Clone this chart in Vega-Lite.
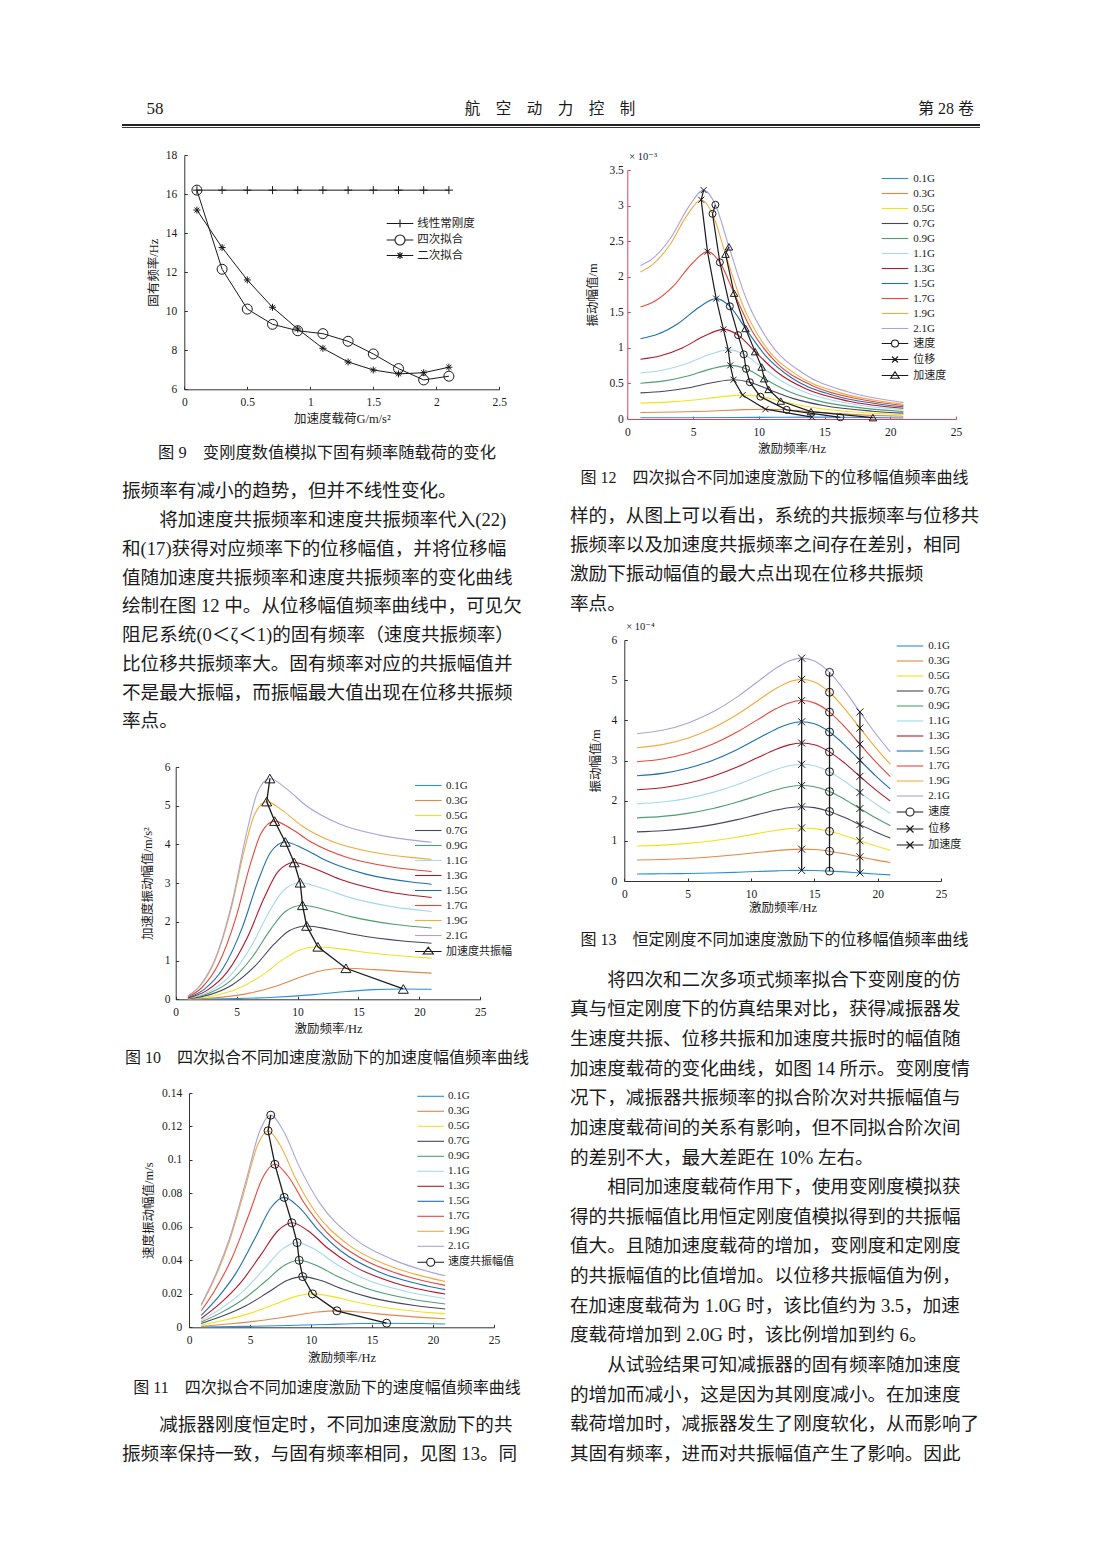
{
"$schema":"https://vega.github.io/schema/vega-lite/v6.json",
"background":"white",
"padding":0,
"spacing":0,
"resolve":{"scale":{"color":"independent","shape":"independent"},"legend":{"color":"independent","shape":"independent"}},
"config":{
 "view":{"stroke":null},
 "font":"Liberation Serif, Noto Sans CJK SC",
 "axis":{"grid":false,"domainColor":"#333333","tickColor":"#333333","labelColor":"#1a1a1a","titleColor":"#1a1a1a","labelFont":"Liberation Serif","labelFontSize":11.5,"titleFont":"Liberation Serif, Noto Sans CJK SC","titleFontSize":12.5,"titleFontWeight":"normal","tickSize":-3,"labelPadding":10,"labelFlush":false,"labelOverlap":false,"domainWidth":1,"tickWidth":1},
 "legend":{"orient":"none","title":null,"padding":0,"symbolSize":100,"symbolStrokeWidth":1.2,"labelFont":"Liberation Serif, Noto Sans CJK SC","labelFontSize":11,"labelColor":"#1a1a1a","rowPadding":4,"labelOffset":12.3},
 "point":{"opacity":1},
 "line":{"strokeWidth":1.1},
 "text":{"font":"Liberation Serif, Noto Sans CJK SC","color":"#1a1a1a"},
 "title":{"font":"Liberation Serif, DejaVu Serif","fontWeight":"normal","fontSize":10.5,"anchor":"start","frame":"group","color":"#1a1a1a"}
},
"datasets":{
 "f9":[
  {"s":"线性常刚度","g":0.1,"f":16.2},{"s":"线性常刚度","g":0.3,"f":16.2},{"s":"线性常刚度","g":0.5,"f":16.2},{"s":"线性常刚度","g":0.7,"f":16.2},{"s":"线性常刚度","g":0.9,"f":16.2},{"s":"线性常刚度","g":1.1,"f":16.2},{"s":"线性常刚度","g":1.3,"f":16.2},{"s":"线性常刚度","g":1.5,"f":16.2},{"s":"线性常刚度","g":1.7,"f":16.2},{"s":"线性常刚度","g":1.9,"f":16.2},{"s":"线性常刚度","g":2.1,"f":16.2},
  {"s":"四次拟合","g":0.1,"f":16.2},{"s":"四次拟合","g":0.3,"f":12.15},{"s":"四次拟合","g":0.5,"f":10.11},{"s":"四次拟合","g":0.7,"f":9.33},{"s":"四次拟合","g":0.9,"f":9.0},{"s":"四次拟合","g":1.1,"f":8.85},{"s":"四次拟合","g":1.3,"f":8.46},{"s":"四次拟合","g":1.5,"f":7.81},{"s":"四次拟合","g":1.7,"f":7.06},{"s":"四次拟合","g":1.9,"f":6.48},{"s":"四次拟合","g":2.1,"f":6.67},
  {"s":"二次拟合","g":0.1,"f":15.18},{"s":"二次拟合","g":0.3,"f":13.26},{"s":"二次拟合","g":0.5,"f":11.6},{"s":"二次拟合","g":0.7,"f":10.2},{"s":"二次拟合","g":0.9,"f":9.09},{"s":"二次拟合","g":1.1,"f":8.1},{"s":"二次拟合","g":1.3,"f":7.4},{"s":"二次拟合","g":1.5,"f":6.99},{"s":"二次拟合","g":1.7,"f":6.79},{"s":"二次拟合","g":1.9,"f":6.85},{"s":"二次拟合","g":2.1,"f":7.13}
 ],
 "vs":[
  {"g":"0.1G","r":0.0617,"f":1,"d":0.01705,"v":0.00011,"a":0.0007},
  {"g":"0.1G","r":0.3,"f":4.86,"d":0.0182,"v":0.00056,"a":0.017},
  {"g":"0.1G","r":0.5,"f":8.1,"d":0.0205,"v":0.00104,"a":0.0532},
  {"g":"0.1G","r":0.7,"f":11.34,"d":0.024,"v":0.00171,"a":0.1217},
  {"g":"0.1G","r":0.867,"f":14.05,"d":0.0258,"v":0.00228,"a":0.2009},
  {"g":"0.1G","r":1,"f":16.2,"d":0.0241,"v":0.00246,"a":0.2502},
  {"g":"0.1G","r":1.153,"f":18.68,"d":0.0194,"v":0.00228,"a":0.2673},
  {"g":"0.1G","r":1.296,"f":21,"d":0.0149,"v":0.00197,"a":0.26},
  {"g":"0.3G","r":0.0825,"f":1,"d":0.0915,"v":0.00058,"a":0.0036},
  {"g":"0.3G","r":0.3,"f":3.64,"d":0.0974,"v":0.00223,"a":0.0508},
  {"g":"0.3G","r":0.5,"f":6.06,"d":0.1098,"v":0.00418,"a":0.1592},
  {"g":"0.3G","r":0.7,"f":8.48,"d":0.1283,"v":0.00684,"a":0.3646},
  {"g":"0.3G","r":0.867,"f":10.51,"d":0.1381,"v":0.00912,"a":0.602},
  {"g":"0.3G","r":1,"f":12.12,"d":0.1293,"v":0.00984,"a":0.7496},
  {"g":"0.3G","r":1.153,"f":13.97,"d":0.1039,"v":0.00912,"a":0.8009},
  {"g":"0.3G","r":1.35,"f":16.36,"d":0.0724,"v":0.00744,"a":0.7652},
  {"g":"0.3G","r":1.6,"f":19.39,"d":0.0473,"v":0.00576,"a":0.7021},
  {"g":"0.3G","r":1.733,"f":21,"d":0.0388,"v":0.00512,"a":0.6758},
  {"g":"0.5G","r":0.0988,"f":1,"d":0.2226,"v":0.0014,"a":0.0088},
  {"g":"0.5G","r":0.3,"f":3.04,"d":0.2366,"v":0.00451,"a":0.0861},
  {"g":"0.5G","r":0.5,"f":5.06,"d":0.2667,"v":0.00848,"a":0.2696},
  {"g":"0.5G","r":0.7,"f":7.08,"d":0.3116,"v":0.01387,"a":0.6174},
  {"g":"0.5G","r":0.867,"f":8.77,"d":0.3354,"v":0.01849,"a":1.0193},
  {"g":"0.5G","r":1,"f":10.12,"d":0.3139,"v":0.01996,"a":1.2693},
  {"g":"0.5G","r":1.153,"f":11.67,"d":0.2523,"v":0.0185,"a":1.3561},
  {"g":"0.5G","r":1.35,"f":13.66,"d":0.1758,"v":0.01509,"a":1.2957},
  {"g":"0.5G","r":1.6,"f":16.19,"d":0.1149,"v":0.01169,"a":1.1889},
  {"g":"0.5G","r":2,"f":20.24,"d":0.0667,"v":0.00848,"a":1.0785},
  {"g":"0.5G","r":2.075,"f":21,"d":0.0611,"v":0.00807,"a":1.0646},
  {"g":"0.7G","r":0.107,"f":1,"d":0.367,"v":0.00231,"a":0.0145},
  {"g":"0.7G","r":0.3,"f":2.8,"d":0.39,"v":0.00685,"a":0.1203},
  {"g":"0.7G","r":0.5,"f":4.66,"d":0.439,"v":0.01286,"a":0.3766},
  {"g":"0.7G","r":0.7,"f":6.52,"d":0.513,"v":0.02104,"a":0.8624},
  {"g":"0.7G","r":0.867,"f":8.08,"d":0.552,"v":0.02805,"a":1.4239},
  {"g":"0.7G","r":1,"f":9.32,"d":0.517,"v":0.03028,"a":1.773},
  {"g":"0.7G","r":1.153,"f":10.75,"d":0.416,"v":0.02806,"a":1.8943},
  {"g":"0.7G","r":1.35,"f":12.58,"d":0.29,"v":0.02289,"a":1.8099},
  {"g":"0.7G","r":1.6,"f":14.91,"d":0.189,"v":0.01772,"a":1.6607},
  {"g":"0.7G","r":2,"f":18.64,"d":0.11,"v":0.01286,"a":1.5066},
  {"g":"0.7G","r":2.253,"f":21,"d":0.0832,"v":0.01098,"a":1.4486},
  {"g":"0.9G","r":0.111,"f":1,"d":0.502,"v":0.00315,"a":0.0198},
  {"g":"0.9G","r":0.3,"f":2.71,"d":0.532,"v":0.00906,"a":0.1541},
  {"g":"0.9G","r":0.5,"f":4.52,"d":0.6,"v":0.01702,"a":0.4828},
  {"g":"0.9G","r":0.7,"f":6.32,"d":0.701,"v":0.02783,"a":1.1054},
  {"g":"0.9G","r":0.867,"f":7.83,"d":0.754,"v":0.0371,"a":1.8251},
  {"g":"0.9G","r":1,"f":9.03,"d":0.706,"v":0.04005,"a":2.2726},
  {"g":"0.9G","r":1.153,"f":10.41,"d":0.567,"v":0.03711,"a":2.428},
  {"g":"0.9G","r":1.35,"f":12.19,"d":0.395,"v":0.03029,"a":2.3198},
  {"g":"0.9G","r":1.6,"f":14.45,"d":0.258,"v":0.02345,"a":2.1286},
  {"g":"0.9G","r":2,"f":18.06,"d":0.15,"v":0.01702,"a":1.9311},
  {"g":"0.9G","r":2.326,"f":21,"d":0.106,"v":0.01394,"a":1.84},
  {"g":"1.1G","r":0.113,"f":1,"d":0.646,"v":0.00406,"a":0.0255},
  {"g":"1.1G","r":0.3,"f":2.66,"d":0.685,"v":0.01144,"a":0.1911},
  {"g":"1.1G","r":0.5,"f":4.43,"d":0.772,"v":0.0215,"a":0.5985},
  {"g":"1.1G","r":0.7,"f":6.2,"d":0.902,"v":0.03517,"a":1.3704},
  {"g":"1.1G","r":0.867,"f":7.68,"d":0.971,"v":0.04688,"a":2.2626},
  {"g":"1.1G","r":1,"f":8.86,"d":0.909,"v":0.05061,"a":2.8173},
  {"g":"1.1G","r":1.153,"f":10.22,"d":0.731,"v":0.04689,"a":3.01},
  {"g":"1.1G","r":1.35,"f":11.96,"d":0.509,"v":0.03827,"a":2.8759},
  {"g":"1.1G","r":1.6,"f":14.18,"d":0.333,"v":0.02963,"a":2.6388},
  {"g":"1.1G","r":2,"f":17.72,"d":0.193,"v":0.0215,"a":2.394},
  {"g":"1.1G","r":2.37,"f":21,"d":0.13,"v":0.0172,"a":2.2693},
  {"g":"1.3G","r":0.119,"f":1,"d":0.839,"v":0.00527,"a":0.0331},
  {"g":"1.3G","r":0.3,"f":2.53,"d":0.888,"v":0.01412,"a":0.2243},
  {"g":"1.3G","r":0.5,"f":4.22,"d":1.002,"v":0.02653,"a":0.7027},
  {"g":"1.3G","r":0.7,"f":5.9,"d":1.17,"v":0.04339,"a":1.6089},
  {"g":"1.3G","r":0.867,"f":7.31,"d":1.26,"v":0.05784,"a":2.6564},
  {"g":"1.3G","r":1,"f":8.43,"d":1.179,"v":0.06245,"a":3.3077},
  {"g":"1.3G","r":1.153,"f":9.72,"d":0.947,"v":0.05787,"a":3.5339},
  {"g":"1.3G","r":1.35,"f":11.38,"d":0.66,"v":0.04722,"a":3.3765},
  {"g":"1.3G","r":1.6,"f":13.49,"d":0.431,"v":0.03656,"a":3.0981},
  {"g":"1.3G","r":2,"f":16.86,"d":0.25,"v":0.02653,"a":2.8106},
  {"g":"1.3G","r":2.491,"f":21,"d":0.151,"v":0.01994,"a":2.6306},
  {"g":"1.5G","r":0.128,"f":1,"d":1.129,"v":0.00709,"a":0.0446},
  {"g":"1.5G","r":0.3,"f":2.34,"d":1.194,"v":0.01755,"a":0.258},
  {"g":"1.5G","r":0.5,"f":3.9,"d":1.346,"v":0.03298,"a":0.8081},
  {"g":"1.5G","r":0.7,"f":5.46,"d":1.572,"v":0.05394,"a":1.8504},
  {"g":"1.5G","r":0.867,"f":6.76,"d":1.692,"v":0.0719,"a":3.0551},
  {"g":"1.5G","r":1,"f":7.8,"d":1.584,"v":0.07762,"a":3.8042},
  {"g":"1.5G","r":1.153,"f":8.99,"d":1.273,"v":0.07193,"a":4.0643},
  {"g":"1.5G","r":1.35,"f":10.53,"d":0.887,"v":0.05869,"a":3.8833},
  {"g":"1.5G","r":1.6,"f":12.48,"d":0.579,"v":0.04544,"a":3.5631},
  {"g":"1.5G","r":2,"f":15.6,"d":0.336,"v":0.03298,"a":3.2325},
  {"g":"1.5G","r":2.5,"f":19.5,"d":0.201,"v":0.02467,"a":3.0229},
  {"g":"1.5G","r":2.692,"f":21,"d":0.171,"v":0.02253,"a":2.9729},
  {"g":"1.7G","r":0.142,"f":1,"d":1.574,"v":0.00989,"a":0.0621},
  {"g":"1.7G","r":0.3,"f":2.11,"d":1.659,"v":0.02202,"a":0.2922},
  {"g":"1.7G","r":0.5,"f":3.52,"d":1.871,"v":0.04138,"a":0.9152},
  {"g":"1.7G","r":0.7,"f":4.93,"d":2.186,"v":0.06768,"a":2.0955},
  {"g":"1.7G","r":0.867,"f":6.1,"d":2.352,"v":0.09021,"a":3.4597},
  {"g":"1.7G","r":1,"f":7.04,"d":2.202,"v":0.09739,"a":4.308},
  {"g":"1.7G","r":1.153,"f":8.12,"d":1.769,"v":0.09024,"a":4.6026},
  {"g":"1.7G","r":1.35,"f":9.5,"d":1.233,"v":0.07364,"a":4.3976},
  {"g":"1.7G","r":1.6,"f":11.26,"d":0.806,"v":0.05701,"a":4.035},
  {"g":"1.7G","r":2,"f":14.08,"d":0.468,"v":0.04138,"a":3.6606},
  {"g":"1.7G","r":2.5,"f":17.6,"d":0.28,"v":0.03096,"a":3.4233},
  {"g":"1.7G","r":2.983,"f":21,"d":0.19,"v":0.02503,"a":3.3025},
  {"g":"1.9G","r":0.154,"f":1,"d":2.067,"v":0.01299,"a":0.0816},
  {"g":"1.9G","r":0.3,"f":1.94,"d":2.173,"v":0.02654,"a":0.3242},
  {"g":"1.9G","r":0.5,"f":3.24,"d":2.45,"v":0.04988,"a":1.0154},
  {"g":"1.9G","r":0.7,"f":4.54,"d":2.862,"v":0.08158,"a":2.3251},
  {"g":"1.9G","r":0.867,"f":5.62,"d":3.081,"v":0.10875,"a":3.8388},
  {"g":"1.9G","r":1,"f":6.48,"d":2.884,"v":0.1174,"a":4.7801},
  {"g":"1.9G","r":1.153,"f":7.47,"d":2.317,"v":0.10879,"a":5.1069},
  {"g":"1.9G","r":1.35,"f":8.75,"d":1.615,"v":0.08877,"a":4.8795},
  {"g":"1.9G","r":1.6,"f":10.37,"d":1.055,"v":0.06873,"a":4.4772},
  {"g":"1.9G","r":2,"f":12.96,"d":0.613,"v":0.04988,"a":4.0618},
  {"g":"1.9G","r":2.5,"f":16.2,"d":0.367,"v":0.03732,"a":3.7984},
  {"g":"1.9G","r":3,"f":19.44,"d":0.245,"v":0.02997,"a":3.6604},
  {"g":"1.9G","r":3.241,"f":21,"d":0.208,"v":0.02741,"a":3.6165},
  {"g":"2.1G","r":0.149,"f":1,"d":2.156,"v":0.01355,"a":0.085},
  {"g":"2.1G","r":0.3,"f":2.01,"d":2.269,"v":0.02866,"a":0.362},
  {"g":"2.1G","r":0.5,"f":3.35,"d":2.559,"v":0.05386,"a":1.1337},
  {"g":"2.1G","r":0.7,"f":4.69,"d":2.989,"v":0.08809,"a":2.5958},
  {"g":"2.1G","r":0.867,"f":5.81,"d":3.217,"v":0.11743,"a":4.2858},
  {"g":"2.1G","r":1,"f":6.7,"d":3.011,"v":0.12677,"a":5.3367},
  {"g":"2.1G","r":1.153,"f":7.73,"d":2.42,"v":0.11747,"a":5.7016},
  {"g":"2.1G","r":1.35,"f":9.05,"d":1.687,"v":0.09586,"a":5.4477},
  {"g":"2.1G","r":1.6,"f":10.72,"d":1.102,"v":0.07421,"a":4.9985},
  {"g":"2.1G","r":2,"f":13.4,"d":0.64,"v":0.05386,"a":4.5347},
  {"g":"2.1G","r":2.5,"f":16.75,"d":0.383,"v":0.04029,"a":4.2407},
  {"g":"2.1G","r":3,"f":20.1,"d":0.256,"v":0.03236,"a":4.0866},
  {"g":"2.1G","r":3.134,"f":21,"d":0.233,"v":0.03075,"a":4.0578}
 ],
 "cs":[
  {"f":1,"0_1G":0.175,"0_3G":0.524,"0_5G":0.873,"0_7G":1.222,"0_9G":1.571,"1_1G":1.921,"1_3G":2.27,"1_5G":2.619,"1_7G":2.968,"1_9G":3.317,"2_1G":3.667},
  {"f":3,"0_1G":0.179,"0_3G":0.536,"0_5G":0.893,"0_7G":1.251,"0_9G":1.608,"1_1G":1.965,"1_3G":2.323,"1_5G":2.68,"1_7G":3.037,"1_9G":3.395,"2_1G":3.752},
  {"f":5,"0_1G":0.187,"0_3G":0.561,"0_5G":0.936,"0_7G":1.31,"0_9G":1.684,"1_1G":2.058,"1_3G":2.432,"1_5G":2.807,"1_7G":3.181,"1_9G":3.555,"2_1G":3.929},
  {"f":7,"0_1G":0.2,"0_3G":0.602,"0_5G":1.003,"0_7G":1.404,"0_9G":1.805,"1_1G":2.206,"1_3G":2.607,"1_5G":3.008,"1_7G":3.409,"1_9G":3.81,"2_1G":4.211},
  {"f":9,"0_1G":0.219,"0_3G":0.658,"0_5G":1.096,"0_7G":1.534,"0_9G":1.973,"1_1G":2.411,"1_3G":2.849,"1_5G":3.288,"1_7G":3.726,"1_9G":4.164,"2_1G":4.603},
  {"f":10.5,"0_1G":0.236,"0_3G":0.708,"0_5G":1.18,"0_7G":1.652,"0_9G":2.123,"1_1G":2.595,"1_3G":3.067,"1_5G":3.539,"1_7G":4.011,"1_9G":4.483,"2_1G":4.955},
  {"f":12,"0_1G":0.252,"0_3G":0.757,"0_5G":1.262,"0_7G":1.767,"0_9G":2.272,"1_1G":2.777,"1_3G":3.282,"1_5G":3.787,"1_7G":4.292,"1_9G":4.797,"2_1G":5.301},
  {"f":13,"0_1G":0.261,"0_3G":0.782,"0_5G":1.304,"0_7G":1.825,"0_9G":2.346,"1_1G":2.868,"1_3G":3.389,"1_5G":3.911,"1_7G":4.432,"1_9G":4.954,"2_1G":5.475},
  {"f":14,"0_1G":0.264,"0_3G":0.793,"0_5G":1.321,"0_7G":1.849,"0_9G":2.378,"1_1G":2.906,"1_3G":3.435,"1_5G":3.963,"1_7G":4.492,"1_9G":5.02,"2_1G":5.548},
  {"f":15,"0_1G":0.261,"0_3G":0.783,"0_5G":1.305,"0_7G":1.826,"0_9G":2.348,"1_1G":2.87,"1_3G":3.392,"1_5G":3.914,"1_7G":4.435,"1_9G":4.957,"2_1G":5.479},
  {"f":16.2,"0_1G":0.247,"0_3G":0.742,"0_5G":1.237,"0_7G":1.731,"0_9G":2.226,"1_1G":2.72,"1_3G":3.215,"1_5G":3.71,"1_7G":4.204,"1_9G":4.699,"2_1G":5.194},
  {"f":17.4,"0_1G":0.226,"0_3G":0.677,"0_5G":1.128,"0_7G":1.579,"0_9G":2.031,"1_1G":2.482,"1_3G":2.933,"1_5G":3.385,"1_7G":3.836,"1_9G":4.287,"2_1G":4.738},
  {"f":18.6,"0_1G":0.2,"0_3G":0.601,"0_5G":1.002,"0_7G":1.403,"0_9G":1.804,"1_1G":2.205,"1_3G":2.605,"1_5G":3.006,"1_7G":3.407,"1_9G":3.808,"2_1G":4.209},
  {"f":19.8,"0_1G":0.175,"0_3G":0.526,"0_5G":0.877,"0_7G":1.228,"0_9G":1.579,"1_1G":1.93,"1_3G":2.281,"1_5G":2.632,"1_7G":2.983,"1_9G":3.334,"2_1G":3.685},
  {"f":21,"0_1G":0.153,"0_3G":0.459,"0_5G":0.765,"0_7G":1.071,"0_9G":1.377,"1_1G":1.682,"1_3G":1.988,"1_5G":2.294,"1_7G":2.6,"1_9G":2.906,"2_1G":3.212}
 ]
},
"vconcat":[
 {"spacing":0,"vconcat":[
  {"width":1102,"height":94,"data":{"values":[]},"mark":"point"},
  {"spacing":0,"bounds":"flush","hconcat":[
   {"width":310,"height":30,"data":{"values":[{"t":"58"}]},"mark":{"type":"text","fontSize":17,"font":"Liberation Serif"},"encoding":{"text":{"field":"t"}}},
   {"width":480,"height":30,"data":{"values":[{"t":"航　空　动　力　控　制"}]},"mark":{"type":"text","fontSize":15.5},"encoding":{"text":{"field":"t"}}},
   {"width":312,"height":30,"data":{"values":[{"t":"第 28 卷"}]},"mark":{"type":"text","fontSize":16},"encoding":{"text":{"field":"t"}}}
  ]},
  {"spacing":0,"bounds":"flush","hconcat":[
   {"width":122,"height":5,"data":{"values":[]},"mark":"point"},
   {"width":858,"height":5,"data":{"values":[{}]},"layer":[
    {"mark":{"type":"rule","strokeWidth":1.8,"color":"#222222"},"encoding":{"y":{"datum":4,"type":"quantitative","scale":{"domain":[0,5]},"axis":null}}},
    {"mark":{"type":"rule","strokeWidth":0.9,"color":"#222222"},"encoding":{"y":{"datum":1.5,"type":"quantitative","axis":null}}}
   ]}
  ]}
 ]},
 {"spacing":0,"resolve":{"scale":{"color":"independent","shape":"independent"},"legend":{"color":"independent","shape":"independent"}},"hconcat":[
  {"spacing":0,"bounds":"flush","resolve":{"scale":{"color":"independent","shape":"independent"},"legend":{"color":"independent","shape":"independent"}},"vconcat":[
   {"width":551,"height":26,"data":{"values":[]},"mark":"point"},
   {"width":551,"height":234.3,"data":{"name":"f9"},
    "encoding":{
     "x":{"field":"g","type":"quantitative","scale":{"domain":[0,2.5],"nice":false,"range":[184.3,499.3]},"axis":{"values":[0,0.5,1,1.5,2,2.5],"format":"~g","title":"加速度载荷G/m/s²","titlePadding":4.3}},
     "y":{"field":"f","type":"quantitative","scale":{"domain":[6,18],"nice":false,"zero":false},"axis":{"offset":-184.3,"values":[6,8,10,12,14,16,18],"format":"~g","title":"固有频率/Hz","labelPadding":10.6,"titlePadding":5}}
    },
    "layer":[
     {"mark":{"type":"line","strokeWidth":1},"encoding":{"color":{"field":"s","type":"nominal","scale":{"domain":["线性常刚度","四次拟合","二次拟合"],"range":["#1a1a1a","#1a1a1a","#1a1a1a"]},"legend":{"legendX":394,"legendY":62.5,"rowPadding":1.5,"labelOffset":11.3,"labelFontSize":11.5}}}},
     {"transform":[{"filter":"false"}],"mark":{"type":"point","filled":false,"opacity":1},"encoding":{"color":{"field":"s","type":"nominal","legend":{"legendX":394,"legendY":62.5,"rowPadding":1.5,"labelOffset":11.3,"labelFontSize":11.5}},"shape":{"field":"s","type":"nominal","scale":{"domain":["线性常刚度","四次拟合","二次拟合"],"range":["M-2.66,0L2.66,0M0,-0.8L0,0.8","M-2.66,0L-1,0M1,0L2.66,0M1,0A1 1 0 1 1 -1,0A1 1 0 1 1 1,0","M-2.66,0L2.66,0M0,-0.7L0,0.7M-0.5,-0.5L0.5,0.5M-0.5,0.5L0.5,-0.5"]},"legend":{"legendX":394,"legendY":62.5,"rowPadding":1.5,"labelOffset":11.3,"labelFontSize":11.5}}}},
     {"transform":[{"filter":"datum.s == '线性常刚度'"}],"mark":{"type":"point","shape":"M-1,0L1,0M0,-1L0,1","size":64,"filled":false,"color":"#1a1a1a","strokeWidth":1,"opacity":1}},
     {"transform":[{"filter":"datum.s == '四次拟合'"}],"mark":{"type":"point","shape":"circle","size":100,"filled":false,"color":"#1a1a1a","strokeWidth":1,"opacity":1}},
     {"transform":[{"filter":"datum.s == '二次拟合'"}],"mark":{"type":"point","shape":"M-1,0L1,0M0,-1L0,1M-0.7,-0.7L0.7,0.7M-0.7,0.7L0.7,-0.7","size":49,"filled":false,"color":"#1a1a1a","strokeWidth":1,"opacity":1}}
    ]},
   {"width":551,"height":47.7,"data":{"values":[]},"mark":"point"},
   {"width":551,"height":30,"data":{"values":[{"t":"图 9　变刚度数值模拟下固有频率随载荷的变化"}]},"mark":{"type":"text","fontSize":16.3},"encoding":{"x":{"datum":0.5,"type":"quantitative","scale":{"domain":[0,1],"range":[122,532]},"axis":null},"text":{"field":"t"}}},
   {"width":551,"height":8.6,"data":{"values":[]},"mark":"point"},
   {"width":551,"height":258.75,"data":{"values":[
      {"n":0,"p":0,"t":"振频率有减小的趋势，但并不线性变化。"},
      {"n":1,"p":1,"t":"将加速度共振频率和速度共振频率代入(22)"},
      {"n":2,"p":0,"t":"和(17)获得对应频率下的位移幅值，并将位移幅"},
      {"n":3,"p":0,"t":"值随加速度共振频率和速度共振频率的变化曲线"},
      {"n":4,"p":0,"t":"绘制在图 12 中。从位移幅值频率曲线中，可见欠"},
      {"n":5,"p":0,"t":"阻尼系统(0＜ζ＜1)的固有频率（速度共振频率）"},
      {"n":6,"p":0,"t":"比位移共振频率大。固有频率对应的共振幅值并"},
      {"n":7,"p":0,"t":"不是最大振幅，而振幅最大值出现在位移共振频"},
      {"n":8,"p":0,"t":"率点。"}
    ]},
    "mark":{"type":"text","align":"left","baseline":"middle","fontSize":18.6},
    "encoding":{"x":{"field":"p","type":"quantitative","scale":{"domain":[0,1],"range":[122,159.2]},"axis":null},"y":{"field":"n","type":"ordinal","scale":{"type":"point","padding":0.5},"axis":null},"text":{"field":"t"}}},
   {"width":551,"height":30.65,"data":{"values":[]},"mark":"point"},
   {"width":551,"height":232.3,"data":{"name":"vs"},
    "encoding":{
     "x":{"field":"f","type":"quantitative","scale":{"domain":[0,25],"nice":false,"range":[175.7,480.3]},"axis":{"values":[0,5,10,15,20,25],"format":"~g","title":"激励频率/Hz","titlePadding":4.6}},
     "y":{"field":"a","type":"quantitative","scale":{"domain":[0,6],"nice":false},"axis":{"offset":-175.7,"values":[0,1,2,3,4,5,6],"format":"~g","title":"加速度振动幅值/m/s²","labelPadding":8.7,"titlePadding":9.5}}
    },
    "layer":[
     {"mark":{"type":"line","interpolate":"monotone","strokeWidth":1.1},"encoding":{"color":{"field":"g","type":"nominal","scale":{"domain":["0.1G","0.3G","0.5G","0.7G","0.9G","1.1G","1.3G","1.5G","1.7G","1.9G","2.1G","加速度共振幅"],"range":["#2a8fd6","#e3874a","#f2e21e","#45455e","#4f9d74","#a6d8ee","#b2182b","#1f6faf","#e8473a","#f2ab3c","#aba3d8","#1a1a1a"]},"legend":{"legendX":422.3,"legendY":12.5,"labelOffset":11.7}}}},
     {"transform":[{"filter":"false"}],"mark":{"type":"point","filled":false,"opacity":1},"encoding":{"color":{"field":"g","type":"nominal","legend":{"legendX":422.3,"legendY":12.5,"labelOffset":11.7}},"shape":{"field":"g","type":"nominal","scale":{"domain":["0.1G","0.3G","0.5G","0.7G","0.9G","1.1G","1.3G","1.5G","1.7G","1.9G","2.1G","加速度共振幅"],"range":["M-2.66,0L2.66,0","M-2.66,0L2.66,0","M-2.66,0L2.66,0","M-2.66,0L2.66,0","M-2.66,0L2.66,0","M-2.66,0L2.66,0","M-2.66,0L2.66,0","M-2.66,0L2.66,0","M-2.66,0L2.66,0","M-2.66,0L2.66,0","M-2.66,0L2.66,0","M-2.66,0L2.66,0M0,-0.87L1,0.5L-1,0.5Z"]},"legend":{"legendX":422.3,"legendY":12.5,"labelOffset":11.7}}}},
     {"transform":[{"filter":"datum.r == 1.153"}],"layer":[
      {"mark":{"type":"line","color":"#1a1a1a","strokeWidth":1.3},"encoding":{"order":{"field":"g","type":"ordinal"}}},
      {"mark":{"type":"point","shape":"triangle-up","size":100,"filled":false,"color":"#1a1a1a","strokeWidth":1,"opacity":1}}
     ]}
    ]},
   {"width":551,"height":42.7,"data":{"values":[]},"mark":"point"},
   {"width":551,"height":30,"data":{"values":[{"t":"图 10　四次拟合不同加速度激励下的加速度幅值频率曲线"}]},"mark":{"type":"text","fontSize":16},"encoding":{"x":{"datum":0.5,"type":"quantitative","scale":{"domain":[0,1],"range":[122,532]},"axis":null},"text":{"field":"t"}}},
   {"width":551,"height":20,"data":{"values":[]},"mark":"point"},
   {"width":551,"height":234.3,"data":{"name":"vs"},
    "encoding":{
     "x":{"field":"f","type":"quantitative","scale":{"domain":[0,25],"nice":false,"range":[189,494]},"axis":{"values":[0,5,10,15,20,25],"format":"~g","title":"激励频率/Hz","titlePadding":6}},
     "y":{"field":"v","type":"quantitative","scale":{"domain":[0,0.14],"nice":false},"axis":{"offset":-189,"values":[0,0.02,0.04,0.06,0.08,0.1,0.12,0.14],"format":"~g","title":"速度振动幅值/m/s","labelPadding":10.3,"titlePadding":6.4}}
    },
    "layer":[
     {"mark":{"type":"line","interpolate":"monotone","strokeWidth":1.1},"encoding":{"color":{"field":"g","type":"nominal","scale":{"domain":["0.1G","0.3G","0.5G","0.7G","0.9G","1.1G","1.3G","1.5G","1.7G","1.9G","2.1G","速度共振幅值"],"range":["#2a8fd6","#e3874a","#f2e21e","#45455e","#4f9d74","#a6d8ee","#b2182b","#1f6faf","#e8473a","#f2ab3c","#aba3d8","#1a1a1a"]},"legend":{"legendX":424.7,"legendY":-2.7,"labelOffset":11.3}}}},
     {"transform":[{"filter":"false"}],"mark":{"type":"point","filled":false,"opacity":1},"encoding":{"color":{"field":"g","type":"nominal","legend":{"legendX":424.7,"legendY":-2.7,"labelOffset":11.3}},"shape":{"field":"g","type":"nominal","scale":{"domain":["0.1G","0.3G","0.5G","0.7G","0.9G","1.1G","1.3G","1.5G","1.7G","1.9G","2.1G","速度共振幅值"],"range":["M-2.66,0L2.66,0","M-2.66,0L2.66,0","M-2.66,0L2.66,0","M-2.66,0L2.66,0","M-2.66,0L2.66,0","M-2.66,0L2.66,0","M-2.66,0L2.66,0","M-2.66,0L2.66,0","M-2.66,0L2.66,0","M-2.66,0L2.66,0","M-2.66,0L2.66,0","M-2.66,0L-0.8,0M0.8,0L2.66,0M0.8,0A0.8 0.8 0 1 1 -0.8,0A0.8 0.8 0 1 1 0.8,0"]},"legend":{"legendX":424.7,"legendY":-2.7,"labelOffset":11.3}}}},
     {"transform":[{"filter":"datum.r == 1"}],"layer":[
      {"mark":{"type":"line","color":"#1a1a1a","strokeWidth":1.3},"encoding":{"order":{"field":"g","type":"ordinal"}}},
      {"mark":{"type":"point","shape":"circle","size":64,"filled":false,"color":"#1a1a1a","strokeWidth":1,"opacity":1}}
     ]}
    ]},
   {"width":551,"height":44.7,"data":{"values":[]},"mark":"point"},
   {"width":551,"height":30,"data":{"values":[{"t":"图 11　四次拟合不同加速度激励下的速度幅值频率曲线"}]},"mark":{"type":"text","fontSize":16},"encoding":{"x":{"datum":0.5,"type":"quantitative","scale":{"domain":[0,1],"range":[122,532]},"axis":null},"text":{"field":"t"}}},
   {"width":551,"height":6.5,"data":{"values":[]},"mark":"point"},
   {"width":551,"height":58,"data":{"values":[
      {"n":0,"p":1,"t":"减振器刚度恒定时，不同加速度激励下的共"},
      {"n":1,"p":0,"t":"振频率保持一致，与固有频率相同，见图 13。同"}
    ]},
    "mark":{"type":"text","align":"left","baseline":"middle","fontSize":18.6},
    "encoding":{"x":{"field":"p","type":"quantitative","scale":{"domain":[0,1],"range":[122,159.2]},"axis":null},"y":{"field":"n","type":"ordinal","scale":{"type":"point","padding":0.5},"axis":null},"text":{"field":"t"}}}
  ]},
  {"spacing":0,"bounds":"flush","resolve":{"scale":{"color":"independent","shape":"independent"},"legend":{"color":"independent","shape":"independent"}},"vconcat":[
   {"width":551,"height":40.3,"data":{"values":[]},"mark":"point"},
   {"width":551,"height":249,"data":{"name":"vs"},
    "title":{"text":"× 10⁻³","offset":2,"dx":78.3},
    "encoding":{
     "x":{"field":"f","type":"quantitative","scale":{"domain":[0,25],"nice":false,"range":[76.3,405]},"axis":{"values":[0,5,10,15,20,25],"format":"~g","title":"激励频率/Hz","titlePadding":5,"domainColor":"#d6455f","tickColor":"#d6455f"}},
     "y":{"field":"d","type":"quantitative","scale":{"domain":[0,3.5],"nice":false},"axis":{"offset":-76.3,"values":[0,0.5,1,1.5,2,2.5,3,3.5],"format":"~g","title":"振动幅值/m","labelPadding":7,"titlePadding":9.3,"domainColor":"#d6455f","tickColor":"#d6455f"}}
    },
    "layer":[
     {"mark":{"type":"line","interpolate":"monotone","strokeWidth":1.1},"encoding":{"color":{"field":"g","type":"nominal","scale":{"domain":["0.1G","0.3G","0.5G","0.7G","0.9G","1.1G","1.3G","1.5G","1.7G","1.9G","2.1G","速度","位移","加速度"],"range":["#2a8fd6","#e3874a","#f2e21e","#45455e","#4f9d74","#a6d8ee","#b2182b","#1f6faf","#e8473a","#f2ab3c","#aba3d8","#1a1a1a","#1a1a1a","#1a1a1a"]},"legend":{"legendX":338,"legendY":2.5,"labelOffset":12.3}}}},
     {"transform":[{"filter":"false"}],"mark":{"type":"point","filled":false,"opacity":1},"encoding":{"color":{"field":"g","type":"nominal","legend":{"legendX":338,"legendY":2.5,"labelOffset":12.3}},"shape":{"field":"g","type":"nominal","scale":{"domain":["0.1G","0.3G","0.5G","0.7G","0.9G","1.1G","1.3G","1.5G","1.7G","1.9G","2.1G","速度","位移","加速度"],"range":["M-2.66,0L2.66,0","M-2.66,0L2.66,0","M-2.66,0L2.66,0","M-2.66,0L2.66,0","M-2.66,0L2.66,0","M-2.66,0L2.66,0","M-2.66,0L2.66,0","M-2.66,0L2.66,0","M-2.66,0L2.66,0","M-2.66,0L2.66,0","M-2.66,0L2.66,0","M-2.66,0L-0.7,0M0.7,0L2.66,0M0.7,0A0.7 0.7 0 1 1 -0.7,0A0.7 0.7 0 1 1 0.7,0","M-2.66,0L2.66,0M-0.6,-0.6L0.6,0.6M-0.6,0.6L0.6,-0.6","M-2.66,0L2.66,0M0,-0.75L0.85,0.55L-0.85,0.55Z"]},"legend":{"legendX":338,"legendY":2.5,"labelOffset":12.3}}}},
     {"transform":[{"filter":"datum.r == 1"}],"layer":[
      {"mark":{"type":"line","color":"#1a1a1a","strokeWidth":1.2},"encoding":{"order":{"field":"g","type":"ordinal"}}},
      {"mark":{"type":"point","shape":"circle","size":49,"filled":false,"color":"#1a1a1a","strokeWidth":1,"opacity":1}}
     ]},
     {"transform":[{"filter":"datum.r == 0.867"}],"layer":[
      {"mark":{"type":"line","color":"#1a1a1a","strokeWidth":1.2},"encoding":{"order":{"field":"g","type":"ordinal"}}},
      {"mark":{"type":"point","shape":"M-1,-1L1,1M-1,1L1,-1","size":36,"filled":false,"color":"#1a1a1a","strokeWidth":1,"opacity":1}}
     ]},
     {"transform":[{"filter":"datum.r == 1.153"}],"layer":[
      {"mark":{"type":"line","color":"#1a1a1a","strokeWidth":1.2},"encoding":{"order":{"field":"g","type":"ordinal"}}},
      {"mark":{"type":"point","shape":"triangle-up","size":56,"filled":false,"color":"#1a1a1a","strokeWidth":1,"opacity":1}}
     ]}
    ]},
   {"width":551,"height":43.7,"data":{"values":[]},"mark":"point"},
   {"width":551,"height":30,"data":{"values":[{"t":"图 12　四次拟合不同加速度激励下的位移幅值频率曲线"}]},"mark":{"type":"text","fontSize":16},"encoding":{"x":{"datum":0.5,"type":"quantitative","scale":{"domain":[0,1],"range":[19,428]},"axis":null},"text":{"field":"t"}}},
   {"width":551,"height":7.35,"data":{"values":[]},"mark":"point"},
   {"width":551,"height":117.2,"data":{"values":[
      {"n":0,"p":0,"t":"样的，从图上可以看出，系统的共振频率与位移共"},
      {"n":1,"p":0,"t":"振频率以及加速度共振频率之间存在差别，相同"},
      {"n":2,"p":0,"t":"激励下振动幅值的最大点出现在位移共振频"},
      {"n":3,"p":0,"t":"率点。"}
    ]},
    "mark":{"type":"text","align":"left","baseline":"middle","fontSize":18.6},
    "encoding":{"x":{"field":"p","type":"quantitative","scale":{"domain":[0,1],"range":[19,56.2]},"axis":null},"y":{"field":"n","type":"ordinal","scale":{"type":"point","padding":0.5},"axis":null},"text":{"field":"t"}}},
   {"width":551,"height":20.15,"data":{"values":[]},"mark":"point"},
   {"width":551,"height":241,"data":{"name":"cs"},
    "title":{"text":"× 10⁻⁴","offset":2,"dx":75.3},
    "transform":[{"fold":["0_1G","0_3G","0_5G","0_7G","0_9G","1_1G","1_3G","1_5G","1_7G","1_9G","2_1G"],"as":["g","d"]}],
    "encoding":{
     "x":{"field":"f","type":"quantitative","scale":{"domain":[0,25],"nice":false,"range":[73.3,390]},"axis":{"values":[0,5,10,15,20,25],"format":"~g","title":"激励频率/Hz","titlePadding":1.8}},
     "y":{"field":"d","type":"quantitative","scale":{"domain":[0,6],"nice":false},"axis":{"offset":-73.3,"values":[0,1,2,3,4,5,6],"format":"~g","title":"振动幅值/m","labelPadding":10.6,"titlePadding":8}}
    },
    "layer":[
     {"mark":{"type":"line","interpolate":"monotone","strokeWidth":1.1},"encoding":{"color":{"field":"g","type":"nominal","scale":{"domain":["0_1G","0_3G","0_5G","0_7G","0_9G","1_1G","1_3G","1_5G","1_7G","1_9G","2_1G","速度","位移","加速度"],"range":["#2a8fd6","#e3874a","#f2e21e","#45455e","#4f9d74","#a6d8ee","#b2182b","#1f6faf","#e8473a","#f2ab3c","#aba3d8","#1a1a1a","#1a1a1a","#1a1a1a"]},"legend":{"legendX":353,"legendY":0,"labelOffset":12.3,"labelExpr":"replace(datum.label, '_', '.')"}}}},
     {"transform":[{"filter":"false"}],"mark":{"type":"point","filled":false,"opacity":1},"encoding":{"color":{"field":"g","type":"nominal","legend":{"legendX":353,"legendY":0,"labelOffset":12.3,"labelExpr":"replace(datum.label, '_', '.')"}},"shape":{"field":"g","type":"nominal","scale":{"domain":["0_1G","0_3G","0_5G","0_7G","0_9G","1_1G","1_3G","1_5G","1_7G","1_9G","2_1G","速度","位移","加速度"],"range":["M-2.66,0L2.66,0","M-2.66,0L2.66,0","M-2.66,0L2.66,0","M-2.66,0L2.66,0","M-2.66,0L2.66,0","M-2.66,0L2.66,0","M-2.66,0L2.66,0","M-2.66,0L2.66,0","M-2.66,0L2.66,0","M-2.66,0L2.66,0","M-2.66,0L2.66,0","M-2.66,0L-0.8,0M0.8,0L2.66,0M0.8,0A0.8 0.8 0 1 1 -0.8,0A0.8 0.8 0 1 1 0.8,0","M-2.66,0L2.66,0M-0.7,-0.7L0.7,0.7M-0.7,0.7L0.7,-0.7","M-2.66,0L2.66,0M-0.7,-0.7L0.7,0.7M-0.7,0.7L0.7,-0.7"]},"legend":{"legendX":353,"legendY":0,"labelOffset":12.3,"labelExpr":"replace(datum.label, '_', '.')"}}}},
     {"transform":[{"filter":"datum.f == 14"}],"layer":[
      {"mark":{"type":"line","color":"#1a1a1a","strokeWidth":1.3},"encoding":{"order":{"field":"g","type":"ordinal"}}},
      {"mark":{"type":"point","shape":"M-1,-1L1,1M-1,1L1,-1","size":49,"filled":false,"color":"#1a1a1a","strokeWidth":1,"opacity":1}}
     ]},
     {"transform":[{"filter":"datum.f == 16.2"}],"layer":[
      {"mark":{"type":"line","color":"#1a1a1a","strokeWidth":1.3},"encoding":{"order":{"field":"g","type":"ordinal"}}},
      {"mark":{"type":"point","shape":"circle","size":64,"filled":false,"color":"#1a1a1a","strokeWidth":1,"opacity":1}}
     ]},
     {"transform":[{"filter":"datum.f == 18.6"}],"layer":[
      {"mark":{"type":"line","color":"#1a1a1a","strokeWidth":1.3},"encoding":{"order":{"field":"g","type":"ordinal"}}},
      {"mark":{"type":"point","shape":"M-1,-1L1,1M-1,1L1,-1","size":49,"filled":false,"color":"#1a1a1a","strokeWidth":1,"opacity":1}}
     ]}
    ]},
   {"width":551,"height":43.3,"data":{"values":[]},"mark":"point"},
   {"width":551,"height":30,"data":{"values":[{"t":"图 13　恒定刚度不同加速度激励下的位移幅值频率曲线"}]},"mark":{"type":"text","fontSize":16},"encoding":{"x":{"datum":0.5,"type":"quantitative","scale":{"domain":[0,1],"range":[19,428]},"axis":null},"text":{"field":"t"}}},
   {"width":551,"height":9.2,"data":{"values":[]},"mark":"point"},
   {"width":551,"height":503.6,"data":{"values":[
      {"n":0,"p":1,"t":"将四次和二次多项式频率拟合下变刚度的仿"},
      {"n":1,"p":0,"t":"真与恒定刚度下的仿真结果对比，获得减振器发"},
      {"n":2,"p":0,"t":"生速度共振、位移共振和加速度共振时的幅值随"},
      {"n":3,"p":0,"t":"加速度载荷的变化曲线，如图 14 所示。变刚度情"},
      {"n":4,"p":0,"t":"况下，减振器共振频率的拟合阶次对共振幅值与"},
      {"n":5,"p":0,"t":"加速度载荷间的关系有影响，但不同拟合阶次间"},
      {"n":6,"p":0,"t":"的差别不大，最大差距在 10% 左右。"},
      {"n":7,"p":1,"t":"相同加速度载荷作用下，使用变刚度模拟获"},
      {"n":8,"p":0,"t":"得的共振幅值比用恒定刚度值模拟得到的共振幅"},
      {"n":9,"p":0,"t":"值大。且随加速度载荷的增加，变刚度和定刚度"},
      {"n":10,"p":0,"t":"的共振幅值的比值增加。以位移共振幅值为例，"},
      {"n":11,"p":0,"t":"在加速度载荷为 1.0G 时，该比值约为 3.5，加速"},
      {"n":12,"p":0,"t":"度载荷增加到 2.0G 时，该比例增加到约 6。"},
      {"n":13,"p":1,"t":"从试验结果可知减振器的固有频率随加速度"},
      {"n":14,"p":0,"t":"的增加而减小，这是因为其刚度减小。在加速度"},
      {"n":15,"p":0,"t":"载荷增加时，减振器发生了刚度软化，从而影响了"},
      {"n":16,"p":0,"t":"其固有频率，进而对共振幅值产生了影响。因此"}
    ]},
    "mark":{"type":"text","align":"left","baseline":"middle","fontSize":18.6},
    "encoding":{"x":{"field":"p","type":"quantitative","scale":{"domain":[0,1],"range":[19,56.2]},"axis":null},"y":{"field":"n","type":"ordinal","scale":{"type":"point","padding":0.5},"axis":null},"text":{"field":"t"}}}
  ]}
 ]}
]
}
